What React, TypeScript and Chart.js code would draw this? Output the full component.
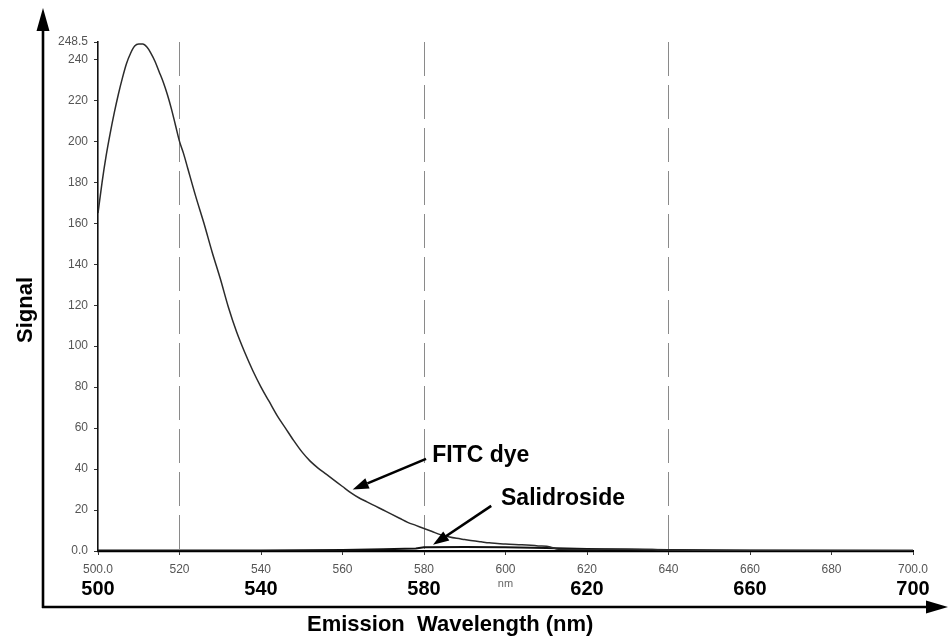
import { useEffect, useRef } from "react";
import { Chart, registerables } from "chart.js";

Chart.register(...registerables);

// ---- data ----
const fitcWavelengths = [
  500, 501, 502, 503, 504, 505, 506, 507, 508, 509, 510, 511, 512, 513, 514, 515, 516, 517, 518, 519,
  520, 521, 522, 524, 526, 528, 530, 532, 534, 536, 538, 540, 542, 544, 546, 548, 550, 552, 554, 556,
  558, 560, 562, 564, 566, 568, 570, 572, 574, 576, 578, 580, 582, 584, 586, 588, 590, 592, 594, 596,
  598, 600, 604, 608, 611, 613, 620, 630, 640, 650, 700,
];
const fitcSignal = [
  165, 180, 193, 204, 214, 223, 231, 238, 243, 246.5, 247.5, 247.5, 246, 243, 239, 234, 229, 223, 216, 208,
  200, 194, 187, 173, 160, 146, 133, 119, 107, 97, 88, 80, 73, 66, 60, 54, 48.5, 44, 40.5, 37.5,
  34.5, 31.5, 28.5, 26, 24, 22, 20, 18, 16, 14, 12.5, 11, 9.5, 8, 7, 6.2, 5.6, 5, 4.5, 4,
  3.7, 3.4, 3, 2.5, 2, 0.8, 0.7, 0.9, 0.5, 0.3, 0.2,
];
const salidrosideWavelengths = [500, 520, 540, 560, 570, 578, 580, 590, 600, 610, 620, 640, 660, 700];
const salidrosideSignal = [0.3, 0.3, 0.3, 0.5, 0.8, 1.2, 1.8, 2, 1.8, 1.5, 1, 0.5, 0.2, 0.1];

const innerXTicks = [500, 520, 540, 560, 580, 600, 620, 640, 660, 680, 700];
const innerXTickLabels = ["500.0", "520", "540", "560", "580", "600", "620", "640", "660", "680", "700.0"];
const innerYTicks = [0, 20, 40, 60, 80, 100, 120, 140, 160, 180, 200, 220, 240, 248.5];
const innerYTickLabels = ["0.0", "20", "40", "60", "80", "100", "120", "140", "160", "180", "200", "220", "240", "248.5"];
const outerXTicks = [500, 540, 580, 600, 620, 660, 700];
const outerXTickLabels = ["500", "540", "580", "nm", "620", "660", "700"];
const gridWavelengths = [520, 580, 640];

const xTitle = "Emission  Wavelength (nm)";
const yTitle = "Signal";

// annotation labels: text anchor (wavelength, signal), arrow start and arrow tip
const annotationTexts = ["FITC dye", "Salidroside"];
const annotationTextAt = [[582.0, 43.5], [598.9, 22.5]];
const annotationArrowFrom = [[580.5, 45], [596.5, 22]];
const annotationArrowTo = [[562.5, 30], [582.2, 3]];

const FONT = '"Liberation Sans", Arial, Helvetica, sans-serif';

function drawArrow(ctx: CanvasRenderingContext2D, x1: number, y1: number, x2: number, y2: number) {
  const ang = Math.atan2(y2 - y1, x2 - x1);
  const headLen = 16;
  const headHalf = 5.5;
  const bx = x2 - headLen * Math.cos(ang);
  const by = y2 - headLen * Math.sin(ang);
  ctx.beginPath();
  ctx.moveTo(x1, y1);
  ctx.lineTo(bx, by);
  ctx.lineWidth = 2.6;
  ctx.stroke();
  ctx.beginPath();
  ctx.moveTo(x2, y2);
  ctx.lineTo(bx + headHalf * Math.sin(ang), by - headHalf * Math.cos(ang));
  ctx.lineTo(bx - headHalf * Math.sin(ang), by + headHalf * Math.cos(ang));
  ctx.closePath();
  ctx.fill();
}

const decorPlugin = {
  id: "decor",
  afterDraw(chart: any) {
    const { ctx, chartArea, scales } = chart;
    const xs = scales.x;
    const ys = scales.y;
    ctx.save();
    ctx.strokeStyle = "#000";
    ctx.fillStyle = "#000";

    // outer arrow axes
    const ox = chartArea.left - 55;
    const oy = chartArea.bottom + 56;
    ctx.lineWidth = 2.6;
    ctx.beginPath();
    ctx.moveTo(ox, oy + 1);
    ctx.lineTo(ox, 28);
    ctx.stroke();
    ctx.beginPath();
    ctx.moveTo(ox, 8);
    ctx.lineTo(ox - 6.5, 31);
    ctx.lineTo(ox + 6.5, 31);
    ctx.closePath();
    ctx.fill();

    ctx.beginPath();
    ctx.moveTo(ox - 1, oy);
    ctx.lineTo(chart.width - 20, oy);
    ctx.stroke();
    ctx.beginPath();
    ctx.moveTo(chart.width - 2, oy);
    ctx.lineTo(chart.width - 24, oy - 6.5);
    ctx.lineTo(chart.width - 24, oy + 6.5);
    ctx.closePath();
    ctx.fill();

    // titles
    ctx.font = `bold 22px ${FONT}`;
    ctx.textBaseline = "alphabetic";
    ctx.textAlign = "left";
    ctx.fillText(xTitle, 307, 631);
    ctx.save();
    ctx.translate(32, 310);
    ctx.rotate(-Math.PI / 2);
    ctx.textAlign = "center";
    ctx.fillText(yTitle, 0, 0);
    ctx.restore();

    // annotations
    ctx.font = `bold 23px ${FONT}`;
    ctx.textAlign = "left";
    for (let i = 0; i < annotationTexts.length; i++) {
      const [tx, ty] = annotationTextAt[i];
      ctx.fillText(annotationTexts[i], xs.getPixelForValue(tx), ys.getPixelForValue(ty));
      const [fx, fy] = annotationArrowFrom[i];
      const [px, py] = annotationArrowTo[i];
      drawArrow(
        ctx,
        xs.getPixelForValue(fx),
        ys.getPixelForValue(fy),
        xs.getPixelForValue(px),
        ys.getPixelForValue(py)
      );
    }
    ctx.restore();
  },
};

export default function App() {
  const canvasRef = useRef<HTMLCanvasElement | null>(null);

  useEffect(() => {
    document.body.style.margin = "0";
    const canvas = canvasRef.current;
    if (!canvas) return;
    const chart = new Chart(canvas, {
      type: "line",
      data: {
        datasets: [
          {
            label: "FITC dye",
            data: fitcWavelengths.map((w, i) => ({ x: w, y: fitcSignal[i] })),
            borderColor: "#2b2b2b",
            borderWidth: 1.5,
            pointRadius: 0,
            cubicInterpolationMode: "monotone",
            fill: false,
          },
          {
            label: "Salidroside",
            data: salidrosideWavelengths.map((w, i) => ({ x: w, y: salidrosideSignal[i] })),
            borderColor: "#111",
            borderWidth: 2,
            pointRadius: 0,
            fill: false,
          },
        ],
      },
      options: {
        responsive: false,
        animation: false,
        devicePixelRatio: 1,
        layout: { padding: { left: 38, right: 37, top: 42, bottom: 40 } },
        plugins: { legend: { display: false }, tooltip: { enabled: false } },
        scales: {
          x: {
            type: "linear",
            position: "bottom",
            min: 500,
            max: 700,
            afterBuildTicks: (axis: any) => {
              axis.ticks = innerXTicks.map((v) => ({ value: v }));
            },
            afterFit: (s: any) => {
              s.height = 24;
            },
            ticks: {
              autoSkip: false,
              maxRotation: 0,
              padding: 7,
              color: "#555",
              font: { family: FONT, size: 12 },
              callback: (_v: any, i: number) => innerXTickLabels[i],
            },
            grid: {
              color: (c: any) => (c.tick && gridWavelengths.includes(c.tick.value) ? "#8a8a8a" : "rgba(0,0,0,0)"),
              lineWidth: 1,
              tickColor: "#333",
              tickLength: 4,
              drawTicks: true,
            },
            border: { display: true, color: "#000", width: 2.2, dash: [34, 9] },
          },
          x2: {
            type: "linear",
            position: "bottom",
            min: 500,
            max: 700,
            afterBuildTicks: (axis: any) => {
              axis.ticks = outerXTicks.map((v) => ({ value: v }));
            },
            afterFit: (s: any) => {
              s.height = 28;
            },
            ticks: {
              autoSkip: false,
              maxRotation: 0,
              padding: 2,
              color: (c: any) => (c.tick && c.tick.value === 600 ? "#666" : "#000"),
              font: (c: any) =>
                c.tick && c.tick.value === 600
                  ? { family: FONT, size: 11, weight: "normal" }
                  : { family: FONT, size: 20, weight: "bold" },
              callback: (_v: any, i: number) => outerXTickLabels[i],
            },
            grid: { display: false, drawTicks: false },
            border: { display: false },
          },
          y: {
            type: "linear",
            min: 0,
            max: 248.5,
            afterBuildTicks: (axis: any) => {
              axis.ticks = innerYTicks.map((v) => ({ value: v }));
            },
            afterFit: (s: any) => {
              s.width = 60;
            },
            ticks: {
              autoSkip: false,
              padding: 6,
              color: "#555",
              font: { family: FONT, size: 12 },
              callback: (_v: any, i: number) => innerYTickLabels[i],
            },
            grid: {
              drawOnChartArea: false,
              drawTicks: true,
              tickLength: 4,
              tickColor: "#333",
              color: "#333",
            },
            border: { display: true, color: "#111", width: 1.6 },
          },
        },
      },
      plugins: [decorPlugin],
    } as any);
    return () => chart.destroy();
  }, []);

  return <canvas ref={canvasRef} width={950} height={643} style={{ display: "block" }} />;
}
